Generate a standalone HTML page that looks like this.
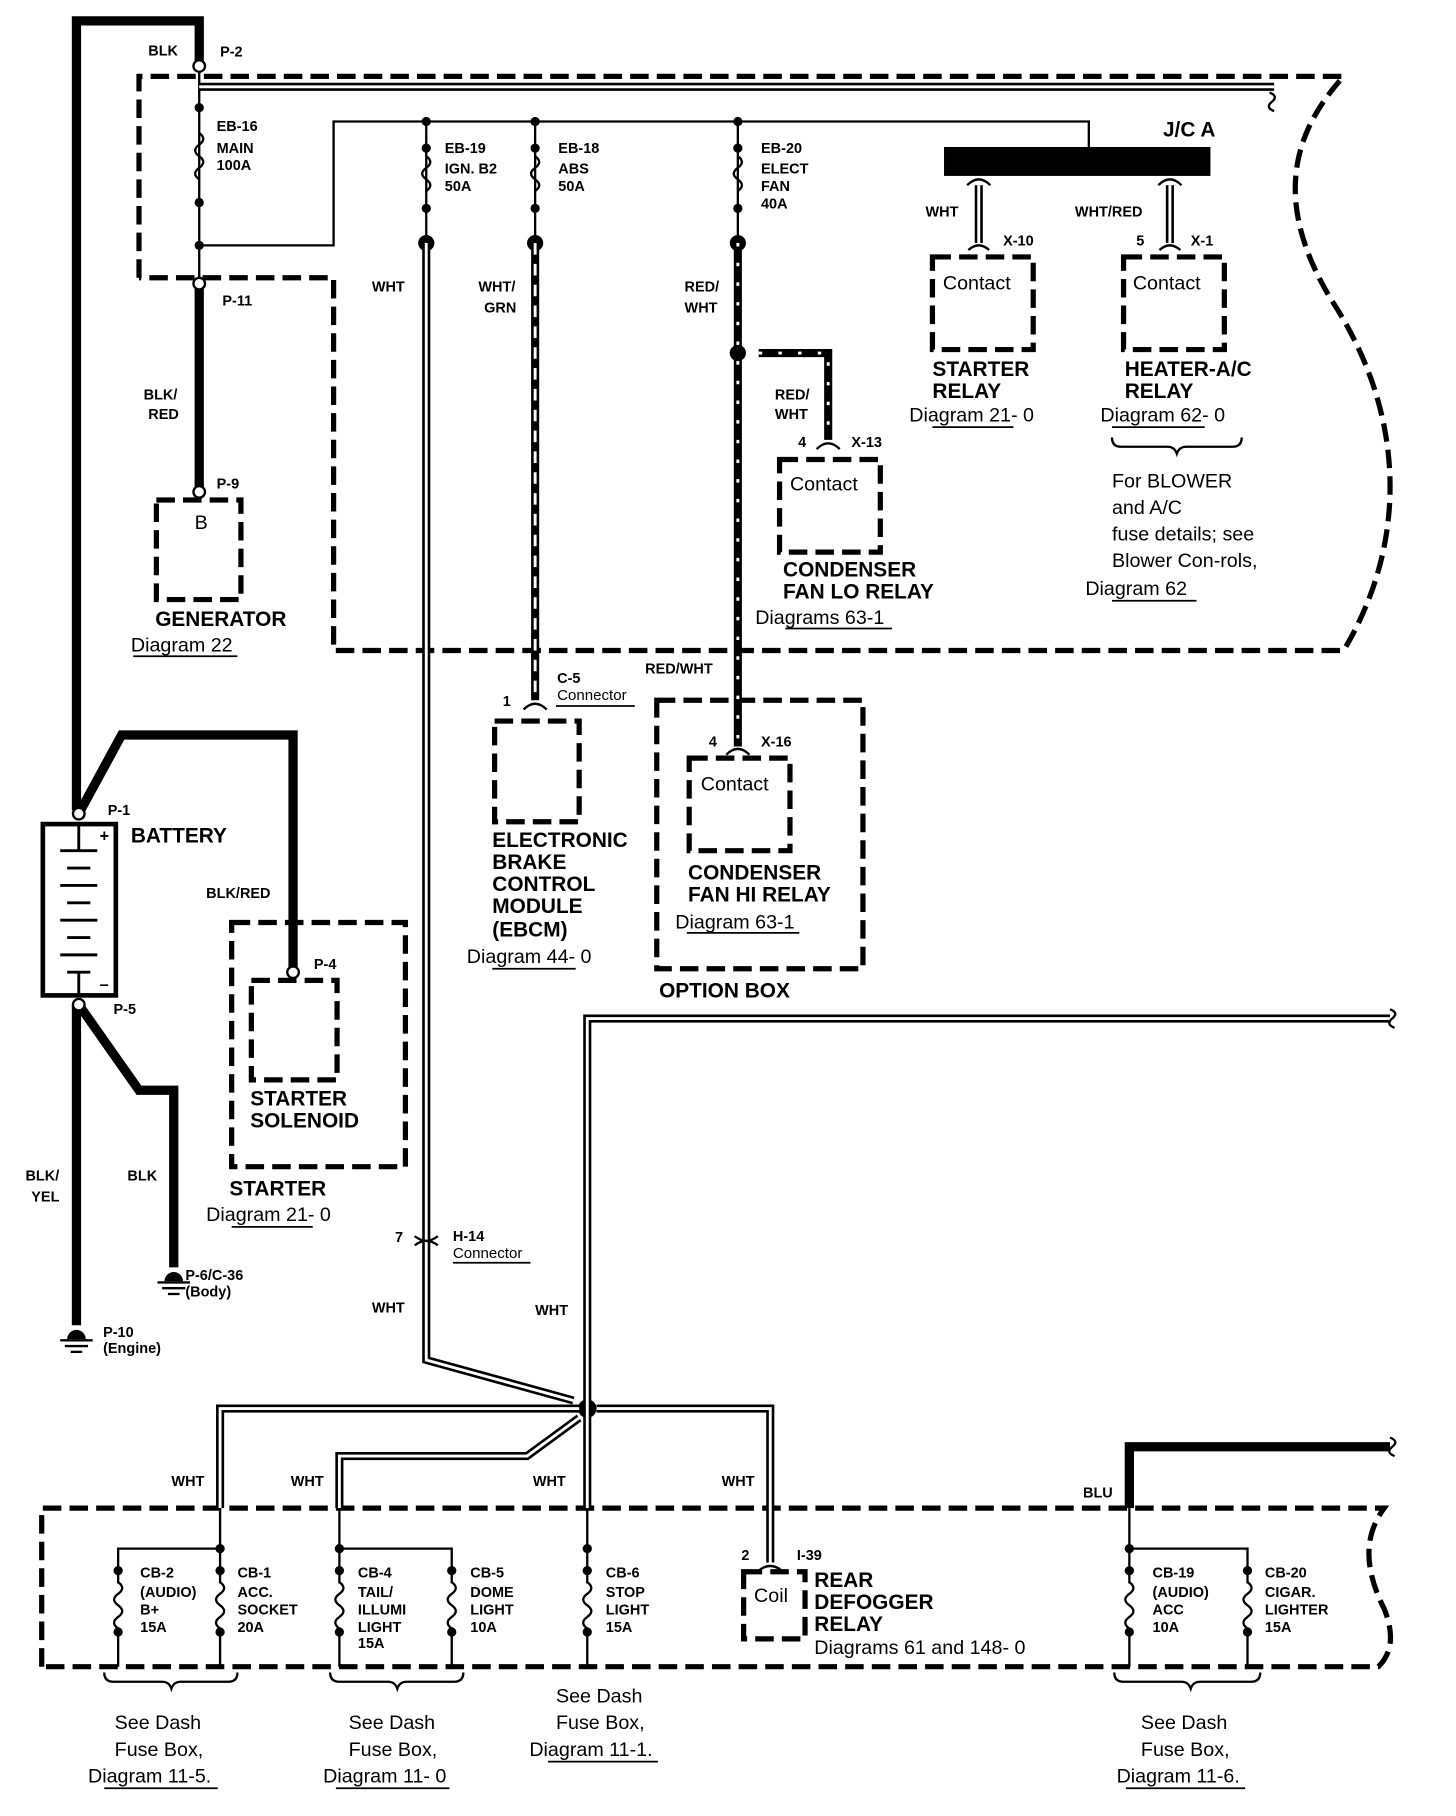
<!DOCTYPE html>
<html><head><meta charset="utf-8"><style>
html,body{margin:0;padding:0;background:#fff}
svg{display:block}
text{font-family:"Liberation Sans",Arial,sans-serif;fill:#000}
.s{font-size:12.5px;font-weight:bold}
.m{font-size:18px;font-weight:bold}
.n{font-size:17px}
.d{fill:none;stroke:#000;stroke-width:4.5;stroke-dasharray:16 7}
.t{fill:none;stroke:#000;stroke-width:2}
.k{fill:none;stroke:#000;stroke-width:8}
.dbo{fill:none;stroke:#000;stroke-width:7}
.dbi{fill:none;stroke:#fff;stroke-width:2.5}
</style></head><body>
<svg width="1456" height="1816" viewBox="0 0 1257 1569" preserveAspectRatio="none" xmlns="http://www.w3.org/2000/svg">
<rect width="1257" height="1569" fill="#fff"/>
<path class="d" d="M120,240 V66 H1160 C1120,110 1095,170 1150,260 C1215,360 1215,470 1160,562 H288 V240 H120"/>
<path class="d" d="M36,1440 V1303 H1195 C1175,1330 1180,1360 1195,1390 C1205,1415 1200,1430 1190,1440 H36"/>
<rect class="d" x="567" y="605" width="178" height="232"/>
<rect class="d" x="595" y="655" width="87" height="80"/>
<rect class="d" x="673" y="397" width="87" height="80"/>
<rect class="d" x="805" y="222" width="87" height="80"/>
<rect class="d" x="970" y="222" width="87" height="80"/>
<rect class="d" x="427" y="623" width="73" height="87"/>
<rect class="d" x="135" y="432" width="73" height="86"/>
<rect class="d" x="200" y="797" width="150" height="211"/>
<rect class="d" x="217" y="847" width="74" height="86"/>
<rect class="d" x="642" y="1358" width="53" height="58"/>
<path class="k" d="M66,700 V18 H172 V57"/>
<path class="k" d="M172,245 V425"/>
<path class="k" d="M68,703 L105,635 H253 V840"/>
<path class="k" d="M66,868 V1145"/>
<path class="k" d="M68,868 L120,942 H150 V1095"/>
<path class="k" d="M975,1303 V1250 H1200"/>
<rect x="37" y="712" width="63" height="148" fill="#fff" stroke="#000" stroke-width="4"/>
<g stroke="#000" stroke-width="2.5"><line x1="52" y1="735" x2="84" y2="735"/><line x1="58" y1="750" x2="78" y2="750"/><line x1="52" y1="765" x2="84" y2="765"/><line x1="58" y1="780" x2="78" y2="780"/><line x1="52" y1="795" x2="84" y2="795"/><line x1="58" y1="810" x2="78" y2="810"/><line x1="52" y1="825" x2="84" y2="825"/><line x1="58" y1="840" x2="78" y2="840"/><line x1="68" y1="712" x2="68" y2="735"/><line x1="68" y1="840" x2="68" y2="860"/></g>
<text x="86" y="727" class="m" style="font-size:14px">+</text><text x="86" y="855" class="m" style="font-size:14px">–</text>
<path class="t" d="M172,57 V245 M172,212 H288 V105 H940 V127"/>
<g class="t"><path d="M368,105 V210 M462,105 V210 M637,105 V210"/></g>
<g class="t">
<path d="M172,115 q7,5 0,10 q-7,5 0,10 q7,5 0,10 q-7,5 0,10"/>
<path d="M368,135 q7,5 0,10 q-7,5 0,10 q7,5 0,10"/>
<path d="M462,135 q7,5 0,10 q-7,5 0,10 q7,5 0,10"/>
<path d="M637,135 q7,5 0,10 q-7,5 0,10 q7,5 0,10"/>
</g>
<g fill="#000">
<circle cx="172" cy="93" r="4"/><circle cx="172" cy="175" r="4"/><circle cx="172" cy="212" r="4"/>
<circle cx="368" cy="105" r="4"/><circle cx="462" cy="105" r="4"/><circle cx="637" cy="105" r="4"/>
<circle cx="368" cy="128" r="4"/><circle cx="462" cy="128" r="4"/><circle cx="637" cy="128" r="4"/>
<circle cx="368" cy="180" r="4"/><circle cx="462" cy="180" r="4"/><circle cx="637" cy="180" r="4"/>
<circle cx="368" cy="210" r="7"/><circle cx="462" cy="210" r="7"/><circle cx="637" cy="210" r="7"/>
<circle cx="637" cy="305" r="7"/><circle cx="507" cy="1217" r="8"/>
</g>
<g fill="#fff" stroke="#000" stroke-width="2"><circle cx="172" cy="57" r="5"/><circle cx="172" cy="245" r="5"/><circle cx="172" cy="425" r="5"/><circle cx="68" cy="703" r="5"/><circle cx="68" cy="868" r="5"/><circle cx="253" cy="840" r="5"/></g>
<rect x="815" y="127" width="230" height="25" fill="#000"/>
<g>
<path class="dbo" d="M172,75 H1100"/><path class="dbi" d="M172,75 H1100"/>
<path class="dbo" d="M368,210 V1175 L495,1210 M190,1303 V1217 H500 M293,1303 V1258 H455 L500,1225 M507,1303 V880 H1200 M515,1217 H665 V1350"/>
<path class="dbi" d="M368,210 V1175 L495,1210 M190,1303 V1217 H500 M293,1303 V1258 H455 L500,1225 M507,1303 V880 H1200 M515,1217 H665 V1350"/>
<path class="dbo" d="M462,210 V605"/><path class="dbi" d="M462,210 V605" stroke-dasharray="10 8"/>
<path class="dbo" d="M637,210 V645 M655,305 H715 V380"/><path class="dbi" d="M637,210 V645 M655,305 H715 V380" stroke-dasharray="3 14"/>
<path class="dbo" d="M845,160 V210 M1010,160 V210"/><path class="dbi" d="M845,160 V210 M1010,160 V210"/>
</g>
<g class="t" stroke-width="3">
<path d="M1096,80 q8,3 2,8 q-6,5 2,8"/><path d="M1200,872 q8,3 2,8 q-6,5 2,8"/><path d="M1200,1242 q8,3 2,8 q-6,5 2,8"/>
<path d="M835,160 q10,-10 20,0 M1000,160 q10,-10 20,0"/>
<path d="M836,216 q9,-8 18,0 M1001,216 q9,-8 18,0"/>
<path d="M705,388 q10,-10 20,0 M627,652 q10,-10 20,0 M452,613 q10,-10 20,0"/>
<path d="M358,1068 q10,8 20,0 M358,1076 q10,-8 20,0"/>
<path d="M655,1357 q10,-8 20,0"/>
</g>
<path class="t" d="M102,1357 V1338 H190 M293,1357 V1338 H390 V1357 M975,1357 V1338 H1077 V1357 M190,1303 V1440 M102,1357 V1440 M293,1303 V1440 M390,1357 V1440 M507,1303 V1440 M975,1303 V1440 M1077,1357 V1440"/>
<g fill="#fff">
<rect x="96" y="1368" width="12" height="38"/><rect x="184" y="1368" width="12" height="38"/><rect x="287" y="1368" width="12" height="38"/><rect x="384" y="1368" width="12" height="38"/><rect x="501" y="1368" width="12" height="38"/><rect x="969" y="1368" width="12" height="38"/><rect x="1071" y="1368" width="12" height="38"/></g>
<g class="t">
<path d="M102,1367 q7,5 0,10 q-7,5 0,10 q7,5 0,10 q-7,5 0,10"/><path d="M190,1367 q7,5 0,10 q-7,5 0,10 q7,5 0,10 q-7,5 0,10"/><path d="M293,1367 q7,5 0,10 q-7,5 0,10 q7,5 0,10 q-7,5 0,10"/><path d="M390,1367 q7,5 0,10 q-7,5 0,10 q7,5 0,10 q-7,5 0,10"/><path d="M507,1367 q7,5 0,10 q-7,5 0,10 q7,5 0,10 q-7,5 0,10"/><path d="M975,1367 q7,5 0,10 q-7,5 0,10 q7,5 0,10 q-7,5 0,10"/><path d="M1077,1367 q7,5 0,10 q-7,5 0,10 q7,5 0,10 q-7,5 0,10"/>
</g>
<g fill="#000"><circle cx="102" cy="1357" r="4"/><circle cx="102" cy="1410" r="4"/><circle cx="190" cy="1338" r="4"/><circle cx="190" cy="1357" r="4"/><circle cx="190" cy="1410" r="4"/><circle cx="293" cy="1338" r="4"/><circle cx="293" cy="1357" r="4"/><circle cx="293" cy="1410" r="4"/><circle cx="390" cy="1357" r="4"/><circle cx="390" cy="1410" r="4"/><circle cx="507" cy="1338" r="4"/><circle cx="507" cy="1357" r="4"/><circle cx="507" cy="1410" r="4"/><circle cx="975" cy="1338" r="4"/><circle cx="975" cy="1357" r="4"/><circle cx="975" cy="1410" r="4"/><circle cx="1077" cy="1357" r="4"/><circle cx="1077" cy="1410" r="4"/></g>
<g class="t" stroke-width="2.5"><path d="M90,1445 q0,8 8,8 H140 q6,0 8,6 q2,-6 8,-6 H197 q8,0 8,-8"/><path d="M285,1445 q0,8 8,8 H335 q6,0 8,6 q2,-6 8,-6 H392 q8,0 8,-8"/><path d="M962,1445 q0,8 8,8 H1020 q6,0 8,6 q2,-6 8,-6 H1080 q8,0 8,-8"/><path d="M960,378 q0,8 8,8 H1008 q6,0 8,6 q2,-6 8,-6 H1064 q8,0 8,-8"/></g>
<g stroke="#000" stroke-width="2"><line x1="52" y1="1158" x2="80" y2="1158"/><line x1="56" y1="1163" x2="76" y2="1163"/><line x1="61" y1="1168" x2="71" y2="1168"/><line x1="136" y1="1108" x2="164" y2="1108"/><line x1="140" y1="1113" x2="160" y2="1113"/><line x1="145" y1="1118" x2="155" y2="1118"/></g>
<path d="M58,1157 a8,8 0 0 1 16,0 z M142,1107 a8,8 0 0 1 16,0 z" fill="#000"/>
<g stroke="#000" stroke-width="1.5"><line x1="115" y1="567" x2="205" y2="567"/><line x1="200" y1="1060" x2="270" y2="1060"/><line x1="425" y1="837" x2="497" y2="837"/><line x1="593" y1="806" x2="690" y2="806"/><line x1="678" y1="543" x2="770" y2="543"/><line x1="805" y1="369" x2="875" y2="369"/><line x1="960" y1="369" x2="1040" y2="369"/><line x1="960" y1="519" x2="1033" y2="519"/><line x1="480" y1="610" x2="548" y2="610"/><line x1="391" y1="1091" x2="458" y2="1091"/><line x1="90" y1="1545" x2="188" y2="1545"/><line x1="290" y1="1545" x2="388" y2="1545"/><line x1="473" y1="1522" x2="568" y2="1522"/><line x1="972" y1="1545" x2="1075" y2="1545"/></g>
<g class="s">
<text x="128" y="48">BLK</text><text x="190" y="49">P-2</text>
<text x="187" y="113">EB-16</text><text x="187" y="132">MAIN</text><text x="187" y="147">100A</text>
<text x="384" y="132">EB-19</text><text x="384" y="150">IGN. B2</text><text x="384" y="165">50A</text>
<text x="482" y="132">EB-18</text><text x="482" y="150">ABS</text><text x="482" y="165">50A</text>
<text x="657" y="132">EB-20</text><text x="657" y="150">ELECT</text><text x="657" y="165">FAN</text><text x="657" y="180">40A</text>
<text x="192" y="264">P-11</text><text x="124" y="345">BLK/</text><text x="128" y="362">RED</text><text x="187" y="422">P-9</text>
<text x="321" y="252">WHT</text><text x="413" y="252">WHT/</text><text x="418" y="270">GRN</text>
<text x="591" y="252">RED/</text><text x="591" y="270">WHT</text>
<text x="669" y="345">RED/</text><text x="669" y="362">WHT</text><text x="689" y="386">4</text><text x="735" y="386">X-13</text>
<text x="799" y="187">WHT</text><text x="866" y="212">X-10</text><text x="928" y="187">WHT/RED</text><text x="981" y="212">5</text><text x="1028" y="212">X-1</text>
<text x="481" y="590">C-5</text><text x="434" y="610">1</text><text x="557" y="582">RED/WHT</text>
<text x="612" y="645">4</text><text x="657" y="645">X-16</text>
<text x="93" y="704">P-1</text><text x="178" y="776">BLK/RED</text><text x="271" y="837">P-4</text><text x="98" y="876">P-5</text>
<text x="22" y="1020">BLK/</text><text x="27" y="1038">YEL</text><text x="110" y="1020">BLK</text>
<text x="341" y="1073">7</text><text x="391" y="1072">H-14</text>
<text x="160" y="1106">P-6/C-36</text><text x="160" y="1120">(Body)</text><text x="89" y="1155">P-10</text><text x="89" y="1169">(Engine)</text>
<text x="321" y="1134">WHT</text><text x="462" y="1136">WHT</text>
<text x="148" y="1284">WHT</text><text x="251" y="1284">WHT</text><text x="460" y="1284">WHT</text><text x="623" y="1284">WHT</text><text x="935" y="1294">BLU</text>
<text x="640" y="1348">2</text><text x="688" y="1348">I-39</text>
<text x="121" y="1363">CB-2</text><text x="121" y="1380">(AUDIO)</text><text x="121" y="1395">B+</text><text x="121" y="1410">15A</text>
<text x="205" y="1363">CB-1</text><text x="205" y="1380">ACC.</text><text x="205" y="1395">SOCKET</text><text x="205" y="1410">20A</text>
<text x="309" y="1363">CB-4</text><text x="309" y="1380">TAIL/</text><text x="309" y="1395">ILLUMI</text><text x="309" y="1410">LIGHT</text><text x="309" y="1424">15A</text>
<text x="406" y="1363">CB-5</text><text x="406" y="1380">DOME</text><text x="406" y="1395">LIGHT</text><text x="406" y="1410">10A</text>
<text x="523" y="1363">CB-6</text><text x="523" y="1380">STOP</text><text x="523" y="1395">LIGHT</text><text x="523" y="1410">15A</text>
<text x="995" y="1363">CB-19</text><text x="995" y="1380">(AUDIO)</text><text x="995" y="1395">ACC</text><text x="995" y="1410">10A</text>
<text x="1092" y="1363">CB-20</text><text x="1092" y="1380">CIGAR.</text><text x="1092" y="1395">LIGHTER</text><text x="1092" y="1410">15A</text>
</g>
<g class="n" style="font-size:13px"><text x="481" y="605">Connector</text><text x="391" y="1087">Connector</text></g>
<g class="m">
<text x="1004" y="118">J/C A</text>
<text x="805" y="325">STARTER</text><text x="805" y="344">RELAY</text>
<text x="971" y="325">HEATER-A/C</text><text x="971" y="344">RELAY</text>
<text x="676" y="498">CONDENSER</text><text x="676" y="517">FAN LO RELAY</text>
<text x="134" y="541">GENERATOR</text>
<text x="113" y="728">BATTERY</text>
<text x="425" y="732">ELECTRONIC</text><text x="425" y="751">BRAKE</text><text x="425" y="770">CONTROL</text><text x="425" y="789">MODULE</text><text x="425" y="809">(EBCM)</text>
<text x="594" y="760">CONDENSER</text><text x="594" y="779">FAN HI RELAY</text>
<text x="569" y="862">OPTION BOX</text>
<text x="216" y="955">STARTER</text><text x="216" y="974">SOLENOID</text>
<text x="198" y="1033">STARTER</text>
<text x="703" y="1371">REAR</text><text x="703" y="1390">DEFOGGER</text><text x="703" y="1409">RELAY</text>
</g>
<g class="n">
<text x="814" y="250">Contact</text><text x="978" y="250">Contact</text><text x="682" y="424">Contact</text><text x="605" y="683">Contact</text>
<text x="168" y="457">B</text><text x="651" y="1384">Coil</text>
<text x="785" y="364">Diagram 21- 0</text><text x="950" y="364">Diagram 62- 0</text>
<text x="960" y="421">For BLOWER</text><text x="960" y="444">and A/C</text><text x="960" y="467">fuse details; see</text><text x="960" y="490">Blower Con-rols,</text><text x="937" y="514">Diagram 62</text>
<text x="652" y="539">Diagrams 63-1</text>
<text x="113" y="563">Diagram 22</text>
<text x="403" y="832">Diagram 44- 0</text><text x="583" y="802">Diagram 63-1</text>
<text x="178" y="1055">Diagram 21- 0</text>
<text x="703" y="1429">Diagrams  61 and 148- 0</text>
<text x="99" y="1494">See Dash</text><text x="99" y="1517">Fuse Box,</text><text x="76" y="1540">Diagram 11-5.</text>
<text x="301" y="1494">See Dash</text><text x="301" y="1517">Fuse Box,</text><text x="279" y="1540">Diagram 11- 0</text>
<text x="480" y="1471">See Dash</text><text x="480" y="1494">Fuse Box,</text><text x="457" y="1517">Diagram 11-1.</text>
<text x="985" y="1494">See Dash</text><text x="985" y="1517">Fuse Box,</text><text x="964" y="1540">Diagram 11-6.</text>
</g>
</svg>
</body></html>
